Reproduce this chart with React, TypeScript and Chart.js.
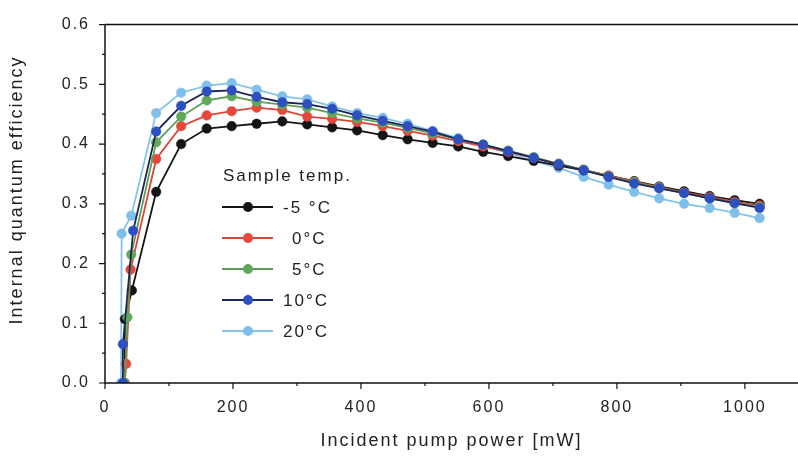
import React, { useEffect, useRef } from 'react';
import { Chart, registerables } from 'chart.js';

Chart.register(...registerables);

const seriesLabels = ['-5 °C', '0°C', '5°C', '10°C', '20°C'];
const pointColors = ['#151515', '#e5483b', '#62a85a', '#2d4fc0', '#7fbfe9'];
const lineColors = ['#151515', '#d8463a', '#5f9f57', '#1d2658', '#86c3ea'];

const xTickValues = [0, 200, 400, 600, 800, 1000];
const yTickValues = [0, 0.1, 0.2, 0.3, 0.4, 0.5, 0.6];

const powerMain = [80, 119, 159, 198, 237, 277, 316, 355, 394, 434, 473, 512, 552, 591, 630, 670, 709, 748, 787, 827, 866, 905, 945, 984, 1023];

const lowPowerM5 = [30, 31, 42];
const lowIqeM5 = [0.0, 0.107, 0.155];
const lowPower0 = [31, 33, 40];
const lowIqe0 = [0.0, 0.032, 0.19];
const lowPower5 = [31, 35, 41];
const lowIqe5 = [0.0, 0.11, 0.215];
const lowPower10 = [28, 28, 44];
const lowIqe10 = [0.0, 0.065, 0.255];
const lowPower20 = [25, 26, 41];
const lowIqe20 = [0.0, 0.25, 0.28];

const iqeM5 = [0.320, 0.400, 0.426, 0.430, 0.434, 0.438, 0.433, 0.428, 0.423, 0.415, 0.408, 0.402, 0.396, 0.387, 0.380, 0.372, 0.364, 0.356, 0.347, 0.338, 0.329, 0.321, 0.313, 0.306, 0.300];
const iqe0 = [0.375, 0.430, 0.448, 0.455, 0.461, 0.457, 0.446, 0.442, 0.437, 0.430, 0.422, 0.414, 0.405, 0.396, 0.387, 0.377, 0.367, 0.357, 0.347, 0.337, 0.328, 0.319, 0.311, 0.303, 0.297];
const iqe5 = [0.403, 0.446, 0.473, 0.480, 0.471, 0.466, 0.461, 0.452, 0.443, 0.436, 0.427, 0.418, 0.408, 0.399, 0.389, 0.378, 0.367, 0.357, 0.346, 0.336, 0.327, 0.318, 0.309, 0.301, 0.295];
const iqe10 = [0.421, 0.464, 0.488, 0.490, 0.479, 0.470, 0.467, 0.459, 0.448, 0.439, 0.430, 0.421, 0.408, 0.399, 0.388, 0.377, 0.366, 0.356, 0.345, 0.334, 0.326, 0.318, 0.309, 0.301, 0.293];
const iqe20 = [0.452, 0.486, 0.498, 0.502, 0.491, 0.480, 0.475, 0.463, 0.452, 0.444, 0.434, 0.422, 0.410, 0.398, 0.385, 0.372, 0.360, 0.345, 0.332, 0.320, 0.309, 0.300, 0.293, 0.285, 0.276];

const lowPowers = [lowPowerM5, lowPower0, lowPower5, lowPower10, lowPower20];
const lowIqes = [lowIqeM5, lowIqe0, lowIqe5, lowIqe10, lowIqe20];
const mainIqes = [iqeM5, iqe0, iqe5, iqe10, iqe20];
const drawOrder = [4, 3, 2, 1, 5];

const FONT = "'Liberation Sans', Arial, sans-serif";
const TEXT = '#222';
const SPACING = '2px';

function buildPoints(i: number) {
  const pts = lowPowers[i].map((x, k) => ({ x, y: lowIqes[i][k] }));
  return pts.concat(powerMain.map((x, k) => ({ x, y: mainIqes[i][k] })));
}

const spacingPlugin = {
  id: 'spacing',
  beforeUpdate(chart: any) { chart.ctx.letterSpacing = SPACING; },
  beforeLayout(chart: any) { chart.ctx.letterSpacing = SPACING; },
  beforeDraw(chart: any) { chart.ctx.letterSpacing = SPACING; },
};

const decorPlugin = {
  id: 'decor',
  afterDraw(chart: any) {
    const ctx = chart.ctx as CanvasRenderingContext2D;
    const { left, right, top, bottom } = chart.chartArea;
    const xs = chart.scales.x;
    const ys = chart.scales.y;
    ctx.save();
    (ctx as any).letterSpacing = SPACING;
    ctx.strokeStyle = '#111';
    ctx.lineWidth = 1.5;
    ctx.beginPath();
    ctx.moveTo(left, top);
    ctx.lineTo(right, top);
    ctx.moveTo(left, top);
    ctx.lineTo(left, bottom);
    ctx.lineTo(right, bottom);
    ctx.stroke();
    // ticks
    ctx.lineWidth = 1.2;
    ctx.beginPath();
    for (let v = 0; v <= 1050; v += 100) {
      const px = xs.getPixelForValue(v);
      const major = v % 200 === 0;
      ctx.moveTo(px, bottom);
      ctx.lineTo(px, bottom + (major ? 6 : 3));
    }
    for (let k = 0; k <= 12; k++) {
      const v = k * 0.05;
      const py = ys.getPixelForValue(v);
      const major = k % 2 === 0;
      ctx.moveTo(left, py);
      ctx.lineTo(left - (major ? 6 : 3), py);
    }
    ctx.stroke();

    // y title
    ctx.fillStyle = TEXT;
    ctx.font = `18px ${FONT}`;
    ctx.textAlign = 'center';
    ctx.textBaseline = 'middle';
    ctx.save();
    ctx.translate(17, 190);
    ctx.rotate(-Math.PI / 2);
    ctx.fillText('Internal quantum efficiency', 0, 0);
    ctx.restore();

    // legend
    const lx = xs.getPixelForValue(0) + 117;
    ctx.textAlign = 'left';
    ctx.font = `17px ${FONT}`;
    ctx.fillText('Sample temp.', lx + 1, 176);
    seriesLabels.forEach((lab, i) => {
      const y = 207 + i * 31;
      ctx.strokeStyle = lineColors[i];
      ctx.lineWidth = 2;
      ctx.beginPath();
      ctx.moveTo(lx, y);
      ctx.lineTo(lx + 51, y);
      ctx.stroke();
      ctx.fillStyle = pointColors[i];
      ctx.beginPath();
      ctx.arc(lx + 26, y, 5, 0, Math.PI * 2);
      ctx.fill();
      ctx.fillStyle = TEXT;
      ctx.fillText(lab, lx + 61 + (lab.length === 3 ? 9 : 0), y + 1);
    });
    ctx.restore();
  },
};

export default function App() {
  const ref = useRef<HTMLCanvasElement>(null);
  useEffect(() => {
    if (!ref.current) return;
    const datasets = seriesLabels.map((lab, i) => ({
      label: lab,
      data: buildPoints(i),
      showLine: true,
      borderColor: lineColors[i],
      borderWidth: 1.8,
      backgroundColor: pointColors[i],
      pointBackgroundColor: pointColors[i],
      pointBorderColor: pointColors[i],
      pointBorderWidth: 0.5,
      pointRadius: 4.8,
      order: drawOrder[i],
    }));
    const chart = new Chart(ref.current, {
      type: 'scatter',
      data: { datasets },
      plugins: [spacingPlugin, decorPlugin],
      options: {
        animation: false,
        responsive: false,
        layout: { autoPadding: false, padding: { top: 15, left: 0, right: 0, bottom: 0 } },
        plugins: { legend: { display: false }, tooltip: { enabled: false } },
        scales: {
          x: {
            type: 'linear',
            min: 0,
            max: 1083,
            grid: { display: false, drawTicks: false },
            border: { display: false },
            afterBuildTicks: (scale: any) => {
              scale.ticks = xTickValues.map((v) => ({ value: v }));
            },
            afterFit: (scale: any) => {
              scale.height = 79;
              scale.paddingRight = 0;
              scale.paddingLeft = 0;
            },
            ticks: {
              padding: 15,
              color: TEXT,
              font: { family: FONT, size: 16 },
              maxRotation: 0,
              callback: (v: any) => String(v),
            },
            title: {
              display: true,
              text: 'Incident pump power [mW]',
              color: TEXT,
              font: { family: FONT, size: 18 },
              padding: { top: 0, bottom: 10 },
            },
          },
          y: {
            type: 'linear',
            min: 0,
            max: 0.6,
            grid: { display: false, drawTicks: false },
            border: { display: false },
            afterBuildTicks: (scale: any) => {
              scale.ticks = yTickValues.map((v) => ({ value: v }));
            },
            afterFit: (scale: any) => { scale.width = 105; },
            ticks: {
              padding: 15,
              color: TEXT,
              font: { family: FONT, size: 16 },
              callback: (v: any) => Number(v).toFixed(1),
            },
          },
        },
      },
    });
    return () => chart.destroy();
  }, []);
  return (
    <div style={{ position: 'fixed', left: 0, top: 0, width: 798, height: 462, background: '#fff' }}>
      <canvas ref={ref} width={798} height={462} style={{ display: 'block' }} />
    </div>
  );
}
